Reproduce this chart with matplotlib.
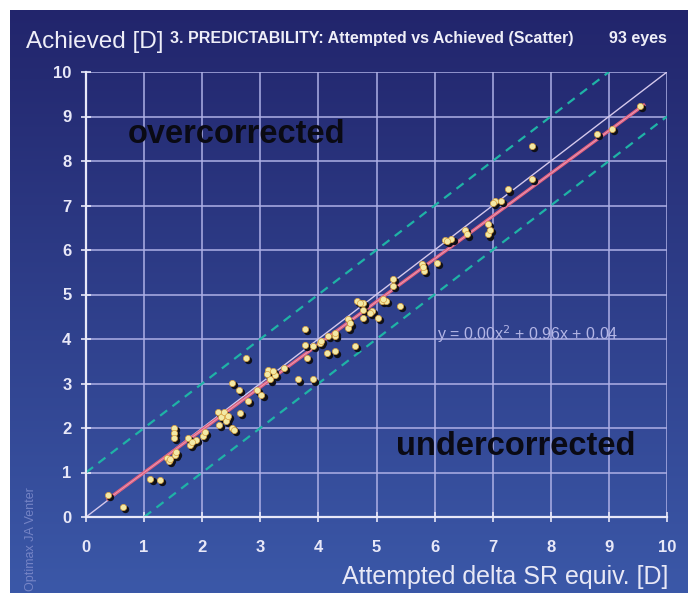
import numpy as np
import matplotlib.pyplot as plt
from matplotlib.transforms import offset_copy

# attempted vs achieved
attempted = [0.38, 0.64, 1.11, 1.27, 1.39, 1.42, 1.53, 1.52, 1.52, 1.52,
             1.76, 1.79, 1.90, 2.02, 2.27, 2.36, 2.42, 2.29, 2.41, 2.51,
             2.54, 2.65, 2.76, 2.51, 2.64, 2.79, 3.02, 2.94, 3.14, 3.17,
             3.25, 3.40, 3.65, 3.91, 3.77, 3.77, 3.80, 3.91, 4.03, 4.17,
             4.29, 4.14, 4.29, 4.63, 4.51, 4.51, 4.66, 4.77, 4.77, 4.92,
             5.03, 5.09, 5.17, 5.29, 5.29, 5.40, 5.78, 5.81, 6.04, 6.18,
             6.29, 6.52, 6.55, 6.92, 6.92, 7.04, 7.15, 7.27, 7.67, 7.67,
             8.79, 9.05, 9.54, 4.77, 4.89, 4.29, 2.32, 2.38, 1.45, 3.12,
             4.55, 5.80, 6.22, 1.55, 2.05, 4.05, 5.12, 6.95, 7.00, 3.22,
             4.72, 2.45, 1.82]
achieved = [0.50, 0.22, 0.85, 0.83, 1.32, 1.25, 1.40, 2.00, 1.88, 1.77,
            1.77, 1.62, 1.73, 1.83, 2.37, 2.30, 2.22, 2.07, 2.15, 2.00,
            1.96, 2.34, 3.57, 3.01, 2.86, 2.60, 2.75, 2.86, 3.31, 3.09,
            3.20, 3.35, 3.09, 3.09, 4.23, 3.87, 3.57, 3.84, 3.91, 4.06,
            4.06, 3.69, 3.72, 3.85, 4.44, 4.25, 4.85, 4.81, 4.47, 4.62,
            4.47, 4.85, 4.85, 5.34, 5.19, 4.74, 5.68, 5.53, 5.71, 6.22,
            6.24, 6.46, 6.35, 6.58, 6.35, 7.10, 7.10, 7.36, 7.59, 8.34,
            8.60, 8.72, 9.23, 4.66, 4.59, 4.14, 2.25, 2.35, 1.30, 3.22,
            4.35, 5.62, 6.20, 1.45, 1.90, 3.95, 4.90, 6.45, 7.05, 3.28,
            4.80, 2.28, 1.68]

fit_coef = [0.00, 0.96, 0.04]
fit_range = [0.38, 9.6]

fig = plt.figure(figsize=(6.88, 5.93), dpi=100)
fig.patch.set_facecolor('white')

# gradient background
bg = fig.add_axes([10 / 688, 0, 678 / 688, 583 / 593])
grad = np.linspace(0, 1, 256).reshape(-1, 1)
top = np.array([0x22, 0x25, 0x6c]) / 255
bot = np.array([0x3b, 0x58, 0xa8]) / 255
img = top + (bot - top) * grad[:, :, None]
bg.imshow(img, aspect='auto', extent=[0, 1, 0, 1], origin='upper')
bg.axis('off')

ax = fig.add_axes([86 / 688, (593 - 517) / 593, 581 / 688, 445 / 593])
ax.set_facecolor('none')
ax.set_xlim(0, 10)
ax.set_ylim(0, 10)
ax.set_xticks(range(11))
ax.set_yticks(range(11))
for v in range(1, 11):
    ax.axvline(v, color='#aeb0e6', lw=1.1, zorder=1)
    ax.axhline(v, color='#aeb0e6', lw=1.1, zorder=1)
for s in ['top', 'right']:
    ax.spines[s].set_visible(False)
for s in ['left', 'bottom']:
    ax.spines[s].set_color('#e8e8f8')
    ax.spines[s].set_linewidth(1.6)
ax.tick_params(colors='#e8e8f8', direction='inout', length=7, width=1.2)
for lab in ax.get_xticklabels() + ax.get_yticklabels():
    lab.set_fontweight('bold')
    lab.set_fontsize(12)
    lab.set_family('Liberation Sans')
    lab.set_color('#e8e8f8')
ax.tick_params(axis='x', pad=13)
ax.tick_params(axis='y', pad=7)

# reference lines
ax.plot([0, 10], [0, 10], color='#d4c8ec', lw=1, zorder=2)
ax.plot([0, 9], [1, 10], color='#1fb3a6', lw=1.6, ls=(0, (4, 3)), zorder=2)
ax.plot([1, 10], [0, 9], color='#1fb3a6', lw=1.6, ls=(0, (4, 3)), zorder=2)

xf = np.linspace(fit_range[0], fit_range[1], 50)
yf = np.polyval(fit_coef, xf)
ax.plot(xf, yf, color='#e0607c', lw=2.4, zorder=3)
ax.plot(xf, yf, color='#e8a0c0', lw=0.6, zorder=3)

shadow = offset_copy(ax.transData, fig=fig, x=1.5, y=-1.5, units='points')
ax.scatter(attempted, achieved, s=28, color='#101018', transform=shadow,
           zorder=4, clip_on=False, linewidths=0)
ax.scatter(attempted, achieved, s=20, color='#f3e9a6', edgecolors='#d8a040',
           linewidths=0.5, zorder=5, clip_on=False)

ax.text(0.71, 8.6, 'overcorrected', fontsize=23.5, fontweight='bold',
        family='Liberation Sans', color='#0a0a14', va='center', zorder=6)
ax.text(5.34, 1.58, 'undercorrected', fontsize=23.5, fontweight='bold',
        family='Liberation Sans', color='#0a0a14', va='center', zorder=6)
ax.text(6.04, 4.1, 'y = 0.00x$^2$ + 0.96x + 0.04', fontsize=11.5,
        family='Liberation Sans', color='#b4b6e6', va='center', zorder=6)

fig.text(26 / 688, 1 - 42 / 593, 'Achieved [D]', fontsize=17.5,
         family='Liberation Sans', color='#eeeef8', va='center')
fig.text(170 / 688, 1 - 38 / 593,
         '3. PREDICTABILITY: Attempted vs Achieved (Scatter)', fontsize=11.5,
         fontweight='bold', family='Liberation Sans', color='#eeeef8',
         va='center')
fig.text(667 / 688, 1 - 38 / 593, '93 eyes', fontsize=11.5, fontweight='bold',
         family='Liberation Sans', color='#eeeef8', ha='right', va='center')
fig.text(668 / 688, 1 - 577 / 593, 'Attempted delta SR equiv. [D]',
         fontsize=18, family='Liberation Sans', color='#e8e8f6',
         ha='right', va='center')
fig.text(31 / 688, 2 / 593, 'Optimax JA Venter', fontsize=9,
         family='Liberation Sans', color='#7584c6', rotation=90,
         ha='center', va='bottom')

fig.savefig('out.png', dpi=100)
